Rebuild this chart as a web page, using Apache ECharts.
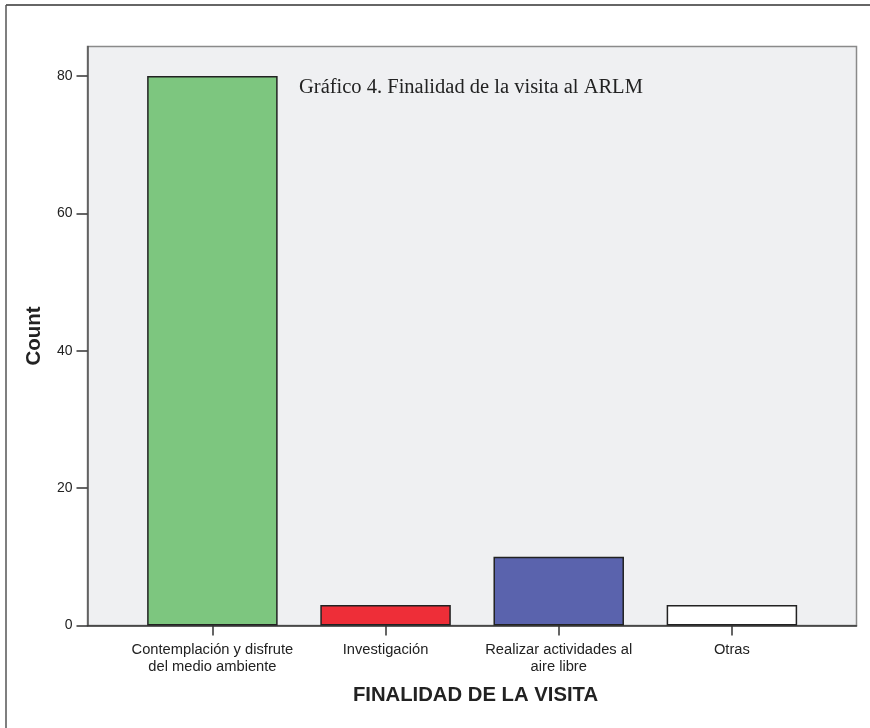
<!DOCTYPE html>
<html>
<head>
<meta charset="utf-8">
<script src="https://cdn.jsdelivr.net/npm/echarts@6/dist/echarts.min.js"></script>
<style>html,body{margin:0;padding:0;background:#fff}#c{width:870px;height:728px}</style>
</head>
<body>
<div id="c"></div>
<script>
const categories = ['Contemplación y disfrute\ndel medio ambiente', 'Investigación', 'Realizar actividades al\naire libre', 'Otras'];
const counts = [80, 3, 10, 3];
const barColors = ['#7dc67f', '#ee2e38', '#5a63ad', '#ffffff'];
const yTicks = [0, 20, 40, 60, 80];
const titleText = 'Gráfico 4. Finalidad de la visita al ARLM';
const xName = 'FINALIDAD DE LA VISITA';
const yName = 'Count';

const chart = echarts.init(document.getElementById('c'), null, {renderer: 'canvas'});
const catIdx = categories.map((c, i) => i);
chart.setOption({
  animation: false,
  backgroundColor: '#ffffff',
  title: {
    text: titleText,
    left: 299, top: 77, padding: 0,
    textStyle: {fontFamily: 'Liberation Serif', fontSize: 20.5, fontWeight: 'normal', color: '#222'}
  },
  grid: {
    left: 87.5, top: 46.5, right: 13.5, bottom: 102.5,
    show: true, backgroundColor: '#eff0f2', borderColor: '#8a8a8a', borderWidth: 1.5
  },
  xAxis: {
    type: 'value', min: -0.7212, max: 3.7195,
    name: xName, nameLocation: 'middle', nameGap: 60,
    nameTextStyle: {fontFamily: 'Liberation Sans', fontSize: 20.3, fontWeight: 'bold', color: '#222', padding: [0, 0, 0, 7]},
    axisLine: {show: true, onZero: false, lineStyle: {color: '#333', width: 1.5}},
    axisTick: {show: true, length: 10, customValues: catIdx, lineStyle: {color: '#333', width: 1.5}},
    axisLabel: {
      customValues: catIdx, margin: 16, fontFamily: 'Liberation Sans', fontSize: 14.7, lineHeight: 17, color: '#222',
      formatter: v => categories[Math.round(v)] || ''
    },
    splitLine: {show: false}
  },
  yAxis: {
    type: 'value', min: 0, max: 84.3,
    name: yName, nameLocation: 'middle', nameGap: 43, nameRotate: 90,
    nameTextStyle: {fontFamily: 'Liberation Sans', fontSize: 20.5, fontWeight: 'bold', color: '#222'},
    axisLine: {show: true, onZero: false, lineStyle: {color: '#555', width: 1.5}},
    axisTick: {show: true, length: 11, customValues: yTicks, lineStyle: {color: '#333', width: 1.5}},
    axisLabel: {customValues: yTicks, margin: 15, fontFamily: 'Liberation Sans', fontSize: 14, color: '#222'},
    splitLine: {show: false}
  },
  graphic: [
    {type: 'line', shape: {x1: 6, y1: 5, x2: 870, y2: 5}, style: {stroke: '#333', lineWidth: 1.5}, silent: true},
    {type: 'line', shape: {x1: 6, y1: 5, x2: 6, y2: 728}, style: {stroke: '#555', lineWidth: 1.5}, silent: true}
  ],
  series: [{
    type: 'bar',
    barWidth: 130.5,
    data: counts.map((v, i) => ({value: [i, v], itemStyle: {color: barColors[i], borderColor: '#222', borderWidth: 1.5}}))
  }]
});
</script>
</body>
</html>
